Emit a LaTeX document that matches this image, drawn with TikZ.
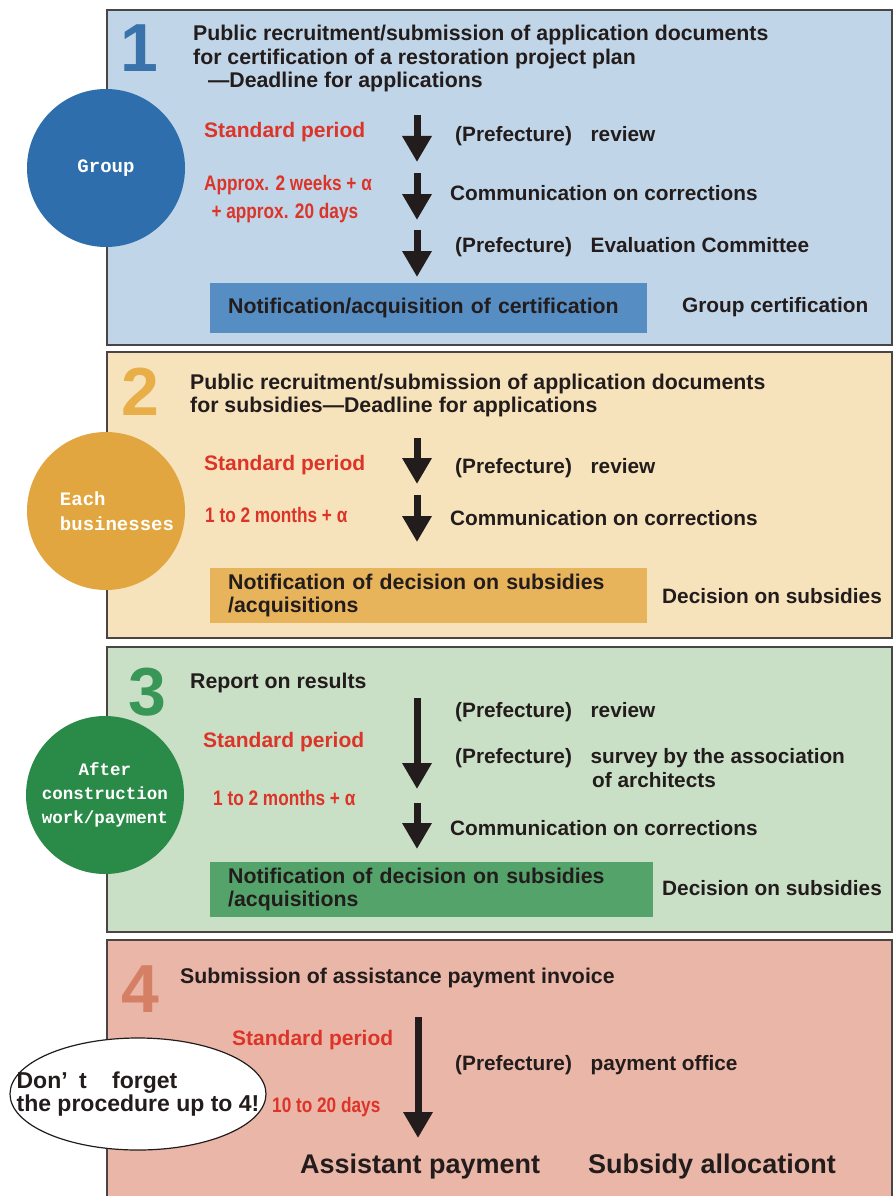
\documentclass[tikz,border=0pt]{standalone}
\usepackage{fontspec}
\setmainfont{Liberation Sans}
\newfontfamily\narrowfont[FakeStretch=0.82]{Liberation Sans}
\newfontfamily\dotfont{Liberation Mono}
\usepackage{xcolor}
\usetikzlibrary{arrows.meta, positioning, shapes.geometric}
\definecolor{ink}{RGB}{35,28,28}
\definecolor{panelline}{RGB}{75,68,68}
\definecolor{periodred}{RGB}{220,52,40}
\definecolor{blueBg}{RGB}{192,213,231}
\definecolor{blueDot}{RGB}{46,110,172}
\definecolor{blueNum}{RGB}{58,115,172}
\definecolor{blueBox}{RGB}{86,142,196}
\definecolor{sandBg}{RGB}{246,227,187}
\definecolor{sandDot}{RGB}{226,166,64}
\definecolor{sandNum}{RGB}{232,174,72}
\definecolor{sandBox}{RGB}{231,180,92}
\definecolor{greenBg}{RGB}{201,224,199}
\definecolor{greenDot}{RGB}{42,138,72}
\definecolor{greenNum}{RGB}{56,150,86}
\definecolor{greenBox}{RGB}{84,163,106}
\definecolor{pinkBg}{RGB}{234,182,167}
\definecolor{pinkNum}{RGB}{213,128,100}

\tikzset{
    panel/.style={draw=panelline, line width=1.6pt},
    stage/.style={circle, minimum size=158pt, inner sep=0pt, text=white, align=center,
        font=\dotfont\bfseries\fontsize{19}{25}\selectfont},
    bignum/.style={anchor=base west, inner sep=0pt, font=\bfseries\fontsize{68}{68}\selectfont},
    headtext/.style={anchor=base west, inner sep=0pt, align=left, text=ink,
        font=\bfseries\fontsize{21.3}{23}\selectfont},
    steptext/.style={anchor=base west, inner sep=0pt, align=left, text=ink,
        font=\bfseries\fontsize{20.8}{24}\selectfont},
    period/.style={anchor=base west, inner sep=0pt, text=periodred,
        font=\bfseries\fontsize{21}{25}\selectfont},
    spantext/.style={anchor=base west, inner sep=0pt, align=left, text=periodred,
        font=\narrowfont\bfseries\fontsize{21}{28}\selectfont},
    notice/.style={anchor=north west, inner xsep=18pt, inner ysep=0pt, align=left, text=ink,
        font=\bfseries\fontsize{21.3}{23}\selectfont},
    flow/.style={-{Triangle[width=28pt,length=26pt]}, line width=7pt, draw=ink},
    bubble/.style={ellipse, draw=ink, line width=1.2pt, fill=white, inner sep=0pt}
}

\begin{document}
\begin{tikzpicture}[x=1pt, y=-1pt]
    \useasboundingbox (0,0) rectangle (895,1196);

    % Panels
    \filldraw[panel, fill=blueBg] (107,10) rectangle (892,345);
    \filldraw[panel, fill=sandBg] (107,352) rectangle (892,638);
    \filldraw[panel, fill=greenBg] (107,647) rectangle (892,932);
    \filldraw[panel, fill=pinkBg] (107,940) rectangle (892,1200);

    % Stage 1
    \node[stage, fill=blueDot] (group) at (106,168) {Group};
    \node[bignum, text=blueNum] (num1) at (120,72) {1};
    \node[headtext, font=\bfseries\fontsize{21.3}{23.5}\selectfont] (head1) at (193,88) {Public recruitment/submission of application documents\\for certification of a restoration project plan\\\hspace*{0.7em}—Deadline for applications};
    \node[period] (std1) at (204,138) {Standard period};
    \node[spantext] (span1) at (204,218) {Approx. 2 weeks + α\\\hspace*{0.35em}+ approx. 20 days};
    \node[steptext] (review1) at (455,142) {(Prefecture)\hspace{0.9em}review};
    \node[steptext] (fix1) at (450,200) {Communication on corrections};
    \node[steptext] (comm1) at (455,252) {(Prefecture)\hspace{0.9em}Evaluation Committee};
    \node[notice, fill=blueBox, text width=401pt, minimum height=50pt] (cert) at (210,283) {Notification/acquisition of certification};
    \node[steptext] (certres) at (682,312) {Group certification};
    \coordinate (a1s) at (417,115);
    \coordinate (a1e) at (417,162);
    \coordinate (a2s) at (417,173);
    \coordinate (a2e) at (417,220);
    \coordinate (a3s) at (417,230);
    \coordinate (a3e) at (417,277);
    \draw[flow] (a1s) -- (a1e);
    \draw[flow] (a2s) -- (a2e);
    \draw[flow] (a3s) -- (a3e);

    % Stage 2
    \node[stage, fill=sandDot, align=left] (each) at (106,511) {\hspace*{22pt}Each\\\hspace*{22pt}businesses};
    \node[bignum, text=sandNum] (num2) at (121,415) {2};
    \node[headtext] (head2) at (190,412) {Public recruitment/submission of application documents\\for subsidies—Deadline for applications};
    \node[period] (std2) at (204,470) {Standard period};
    \node[spantext] (span2) at (205,522) {1 to 2 months + α};
    \node[steptext] (review2) at (455,473) {(Prefecture)\hspace{0.9em}review};
    \node[steptext] (fix2) at (450,525) {Communication on corrections};
    \node[notice, fill=sandBox, text width=401pt, minimum height=55pt] (decide2) at (210,568) {Notification of decision on subsidies\\/acquisitions};
    \node[steptext] (decres2) at (662,603) {Decision on subsidies};
    \coordinate (b1s) at (417,438);
    \coordinate (b1e) at (417,484);
    \coordinate (b2s) at (417,495);
    \coordinate (b2e) at (417,542);
    \draw[flow] (b1s) -- (b1e);
    \draw[flow] (b2s) -- (b2e);

    % Stage 3
    \node[stage, fill=greenDot, font=\dotfont\bfseries\fontsize{17.5}{24}\selectfont] (after) at (105,795) {After\\construction\\work/payment};
    \node[bignum, text=greenNum] (num3) at (128,715) {3};
    \node[headtext] (head3) at (190,688) {Report on results};
    \node[period] (std3) at (203,747) {Standard period};
    \node[spantext] (span3) at (213,805) {1 to 2 months + α};
    \node[steptext] (review3) at (455,717) {(Prefecture)\hspace{0.9em}review};
    \node[steptext] (survey3) at (455,787) {(Prefecture)\hspace{0.9em}survey by the association\\\hspace*{137pt}of architects};
    \node[steptext] (fix3) at (450,835) {Communication on corrections};
    \node[notice, fill=greenBox, text width=407pt, minimum height=55pt] (decide3) at (210,862) {Notification of decision on subsidies\\/acquisitions};
    \node[steptext] (decres3) at (662,895) {Decision on subsidies};
    \coordinate (c1s) at (417,698);
    \coordinate (c1e) at (417,789);
    \coordinate (c2s) at (417,803);
    \coordinate (c2e) at (417,849);
    \draw[flow] (c1s) -- (c1e);
    \draw[flow] (c2s) -- (c2e);

    % Stage 4
    \node[bignum, text=pinkNum] (num4) at (121,1012) {4};
    \node[headtext] (head4) at (180,983) {Submission of assistance payment invoice};
    \node[period] (std4) at (232,1045) {Standard period};
    \node[spantext] (span4) at (272,1112) {10 to 20 days};
    \node[steptext] (office4) at (455,1070) {(Prefecture)\hspace{0.9em}payment office};
    \node[steptext, font=\bfseries\fontsize{27}{30}\selectfont] (paid) at (300,1173) {Assistant payment};
    \node[steptext, font=\bfseries\fontsize{27}{30}\selectfont] (alloc) at (588,1173) {Subsidy allocationt};
    \coordinate (d1s) at (418,1017);
    \coordinate (d1e) at (418,1138);
    \draw[flow] (d1s) -- (d1e);

    % Reminder
    \node[bubble, minimum width=256pt, minimum height=112pt] (reminder) at (138,1094) {};
    \node[align=left, inner sep=0pt, text=ink, font=\bfseries\fontsize{23}{19}\selectfont] (remindtext) at (reminder) {Don’\hspace{0.5em}t\hspace{1.1em}forget\\the procedure up to 4!};
\end{tikzpicture}
\end{document}
